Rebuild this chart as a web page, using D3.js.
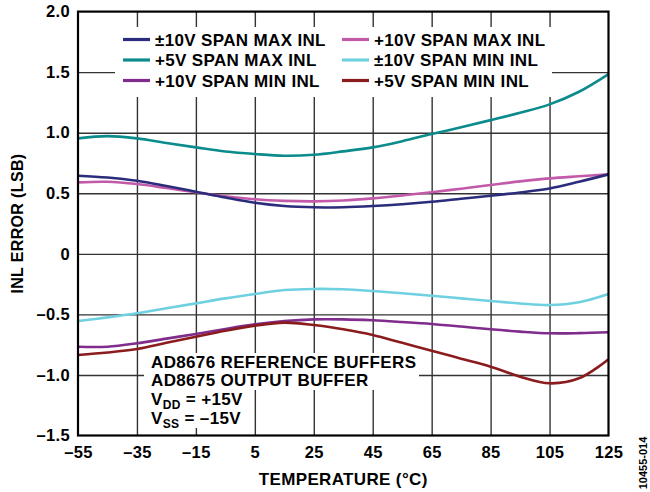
<!DOCTYPE html>
<html>
<head>
<meta charset="utf-8">
<script src="https://cdn.jsdelivr.net/npm/d3@7/dist/d3.min.js"></script>
<style>
  html, body { margin: 0; padding: 0; background: #fff; }
  svg { display: block; }
  text { font-family: "Liberation Sans", Arial, Helvetica, sans-serif; font-weight: bold; fill: #000; letter-spacing: 0.35px; }
</style>
</head>
<body>
<svg id="chart" width="650" height="492"></svg>
<script>
// ---- data ----
const temps = [-55, -45, -35, -25, -15, -5, 5, 15, 25, 35, 45, 55, 65, 75, 85, 95, 105, 115, 125];
const pm10Max = [0.645, 0.63, 0.603, 0.56, 0.513, 0.465, 0.422, 0.395, 0.384, 0.385, 0.395, 0.41, 0.43, 0.455, 0.48, 0.507, 0.54, 0.595, 0.656];
const p10Max  = [0.59, 0.595, 0.576, 0.543, 0.508, 0.475, 0.45, 0.437, 0.433, 0.44, 0.458, 0.482, 0.508, 0.538, 0.568, 0.598, 0.623, 0.64, 0.656];
const p5Max   = [0.953, 0.972, 0.953, 0.915, 0.879, 0.845, 0.824, 0.81, 0.818, 0.846, 0.879, 0.93, 0.989, 1.045, 1.104, 1.165, 1.234, 1.338, 1.484];
const pm10Min = [-0.555, -0.525, -0.491, -0.45, -0.409, -0.368, -0.332, -0.299, -0.29, -0.293, -0.307, -0.325, -0.346, -0.368, -0.39, -0.41, -0.423, -0.40, -0.332];
const p10Min  = [-0.767, -0.767, -0.739, -0.70, -0.662, -0.62, -0.582, -0.555, -0.541, -0.541, -0.549, -0.563, -0.579, -0.60, -0.623, -0.642, -0.656, -0.655, -0.648];
const p5Min   = [-0.835, -0.815, -0.786, -0.735, -0.684, -0.635, -0.593, -0.568, -0.588, -0.623, -0.67, -0.735, -0.80, -0.866, -0.932, -1.014, -1.069, -1.028, -0.871];

const seriesNames = ["±10V SPAN MAX INL", "+10V SPAN MAX INL", "+5V SPAN MAX INL", "±10V SPAN MIN INL", "+10V SPAN MIN INL", "+5V SPAN MIN INL"];
const seriesColors = ["#2b2c7c", "#c35aa9", "#0b8b8b", "#6fd0e0", "#7f2c8c", "#8b1c1e"];
const seriesValues = [pm10Max, p10Max, p5Max, pm10Min, p10Min, p5Min];
const legendOrder = [0, 1, 2, 3, 4, 5];

const xTicks = [-55, -35, -15, 5, 25, 45, 65, 85, 105, 125];
const yTicks = [2.0, 1.5, 1.0, 0.5, 0, -0.5, -1.0, -1.5];
const yTickLabels = ["2.0", "1.5", "1.0", "0.5", "0", "–0.5", "–1.0", "–1.5"];
const xTickLabels = ["–55", "–35", "–15", "5", "25", "45", "65", "85", "105", "125"];

const noteLines = ["AD8676 REFERENCE BUFFERS", "AD8675 OUTPUT BUFFER"];

// ---- layout ----
const L = 78, R = 608.5, T = 11.6, B = 435.5;
const svg = d3.select("#chart");

const x = d3.scaleLinear().domain([-55, 125]).range([L, R]);
const y = d3.scaleLinear().domain([-1.5, 2.0]).range([B, T]);

// gridlines
const grid = svg.append("g");
grid.append("g")
  .attr("transform", `translate(0,${B})`)
  .call(d3.axisBottom(x).tickValues(xTicks.slice(1, -1)).tickSize(-(B - T)).tickFormat(""))
  .call(g => g.select(".domain").remove())
  .call(g => g.selectAll("line").attr("stroke", "#333").attr("stroke-width", 1.4));
grid.append("g")
  .attr("transform", `translate(${L},0)`)
  .call(d3.axisLeft(y).tickValues(yTicks.slice(1, -1)).tickSize(-(R - L)).tickFormat(""))
  .call(g => g.select(".domain").remove())
  .call(g => g.selectAll("line").attr("stroke", "#333").attr("stroke-width", 1.4));

// white boxes masking grid behind legend and note
svg.append("rect").attr("x", 115).attr("y", 27).attr("width", 437).attr("height", 70).attr("fill", "#fff");
svg.append("rect").attr("x", 144).attr("y", 353).attr("width", 275).attr("height", 37).attr("fill", "#fff");
svg.append("rect").attr("x", 144).attr("y", 390).attr("width", 106).attr("height", 38).attr("fill", "#fff");

// lines
const line = d3.line().x((d, i) => x(temps[i])).y(d => y(d)).curve(d3.curveCatmullRom.alpha(0.5));
const drawOrder = [2, 1, 0, 3, 4, 5];
svg.append("g").selectAll("path").data(drawOrder).join("path")
  .attr("d", k => line(seriesValues[k]))
  .attr("fill", "none")
  .attr("stroke", k => seriesColors[k])
  .attr("stroke-width", 2.6)
  .attr("stroke-linejoin", "round");

// frame
svg.append("rect").attr("x", L).attr("y", T).attr("width", R - L).attr("height", B - T)
  .attr("fill", "none").attr("stroke", "#000").attr("stroke-width", 2.2);

// axis labels
svg.append("g")
  .attr("transform", `translate(0,${B})`)
  .call(d3.axisBottom(x).tickValues(xTicks).tickSize(0).tickPadding(11).tickFormat((d, i) => xTickLabels[i]))
  .call(g => g.select(".domain").remove())
  .call(g => g.selectAll("text").attr("font-size", 16.5).attr("font-family", null).attr("fill", "#000"));
svg.append("g")
  .attr("transform", `translate(${L},0)`)
  .call(d3.axisLeft(y).tickValues(yTicks).tickSize(0).tickPadding(8).tickFormat((d, i) => yTickLabels[i]))
  .call(g => g.select(".domain").remove())
  .call(g => g.selectAll("text").attr("font-size", 16.5).attr("font-family", null).attr("fill", "#000"));

svg.append("text").attr("x", (L + R) / 2).attr("y", 485).attr("text-anchor", "middle")
  .attr("font-size", 17).text("TEMPERATURE (°C)");
svg.append("text").attr("transform", `translate(23,${(T + B) / 2}) rotate(-90)`).attr("text-anchor", "middle")
  .attr("font-size", 16).text("INL ERROR (LSB)");

svg.append("text").attr("transform", "translate(647,463) rotate(-90)").attr("text-anchor", "middle")
  .attr("font-size", 11).attr("font-weight", "normal").style("letter-spacing", "0px").text("10455-014");

// legend
const lg = svg.append("g");
const colX = [123, 342], rowY = [39.5, 60, 80.5];
legendOrder.forEach((k, i) => {
  const cx = colX[i % 2], cy = rowY[Math.floor(i / 2)];
  lg.append("line").attr("x1", cx).attr("x2", cx + 27).attr("y1", cy).attr("y2", cy)
    .attr("stroke", seriesColors[k]).attr("stroke-width", 3.2);
  lg.append("text").attr("x", cx + 32).attr("y", cy + 6).attr("font-size", 17).text(seriesNames[k]);
});

// note
const nt = svg.append("g");
noteLines.forEach((s, i) => {
  nt.append("text").attr("x", 151).attr("y", 367.5 + i * 18.7).attr("font-size", 17).text(s);
});
const t3 = nt.append("text").attr("x", 151).attr("y", 404.5).attr("font-size", 17);
t3.append("tspan").text("V");
t3.append("tspan").attr("font-size", 12).attr("dy", 4).text("DD");
t3.append("tspan").attr("dy", -4).text(" = +15V");
const t4 = nt.append("text").attr("x", 151).attr("y", 423.5).attr("font-size", 17);
t4.append("tspan").text("V");
t4.append("tspan").attr("font-size", 12).attr("dy", 4).text("SS");
t4.append("tspan").attr("dy", -4).text(" = –15V");
</script>
</body>
</html>
